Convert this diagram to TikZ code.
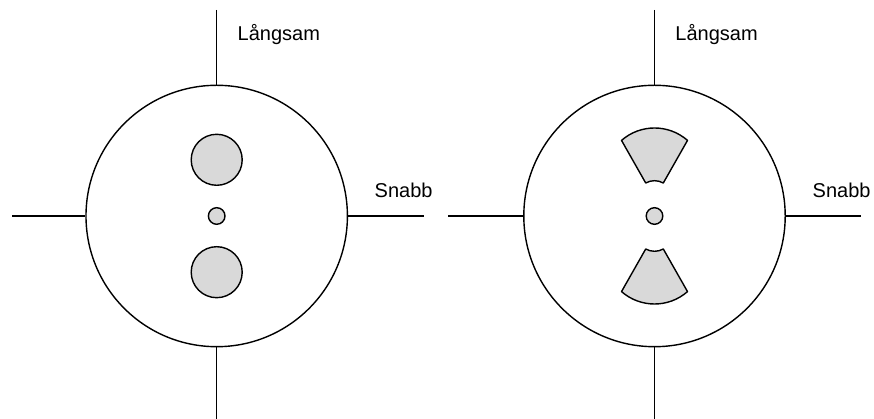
\documentclass[tikz,border=0pt]{standalone}
\usepackage{fontspec}
\setmainfont{Liberation Sans}
\begin{document}
\begin{tikzpicture}[x=1pt,y=1pt,
  line width=1.4pt,
  bigc/.style={circle,draw=black,minimum size=261.4pt,inner sep=0pt},
  smallc/.style={circle,draw=black,fill=shade,minimum size=16.6pt,inner sep=0pt},
  holec/.style={circle,draw=black,fill=shade,minimum size=51pt,inner sep=0pt},
  lbl/.style={anchor=base west,inner sep=0pt,font=\fontsize{20}{24}\selectfont},
  axis/.style={draw=black,line width=1.4pt},
  sector/.style={draw=black,fill=shade,line width=1.4pt,line join=round}]
\definecolor{shade}{RGB}{217,217,217}
\useasboundingbox (0,0) rectangle (874,419);

% ---------- left diagram ----------
\node[bigc] (L) at (216.7,203) {};
\coordinate (Ltop) at (216.7,409);
\coordinate (Lbot) at (216.7,0);
\coordinate (Lleft) at (12,203);
\coordinate (Lright) at (424,203);
\draw[axis] (Ltop) -- (L.north);
\draw[axis] (L.south) -- (Lbot);
\draw[axis] (Lleft) -- (L.west);
\draw[axis] (L.east) -- (Lright);
\node[holec] (Lup) at (216.7,259.2) {};
\node[holec] (Ldown) at (216.7,146.8) {};
\node[smallc] (Lmid) at (216.7,203) {};
\node[lbl] (Lslow) at (237,378.5) {Långsam};
\node[lbl] (Lfast) at (374,221.3) {Snabb};

% ---------- right diagram ----------
\node[bigc] (R) at (654.5,203) {};
\coordinate (Rtop) at (654.5,409);
\coordinate (Rbot) at (654.5,0);
\coordinate (Rleft) at (448.3,203);
\coordinate (Rright) at (861,203);
\draw[axis] (Rtop) -- (R.north);
\draw[axis] (R.south) -- (Rbot);
\draw[axis] (Rleft) -- (R.west);
\draw[axis] (R.east) -- (Rright);
\node[smallc] (Rmid) at (654.5,203) {};
\begin{scope}[shift={(654.5,203)}]
  % upper sector
  \draw[sector] (8.8,33) -- (33,75.6)
    arc[start angle=48.8,end angle=131.2,radius=50.1]
    -- (-8.8,33)
    arc[start angle=119.3,end angle=60.7,radius=18] -- cycle;
  % lower sector
  \draw[sector] (8.8,-33) -- (33,-75.6)
    arc[start angle=-48.8,end angle=-131.2,radius=50.1]
    -- (-8.8,-33)
    arc[start angle=-119.3,end angle=-60.7,radius=18] -- cycle;
\end{scope}
\node[lbl] (Rslow) at (674.7,378.5) {Långsam};
\node[lbl] (Rfast) at (812,221.3) {Snabb};
\end{tikzpicture}
\end{document}
